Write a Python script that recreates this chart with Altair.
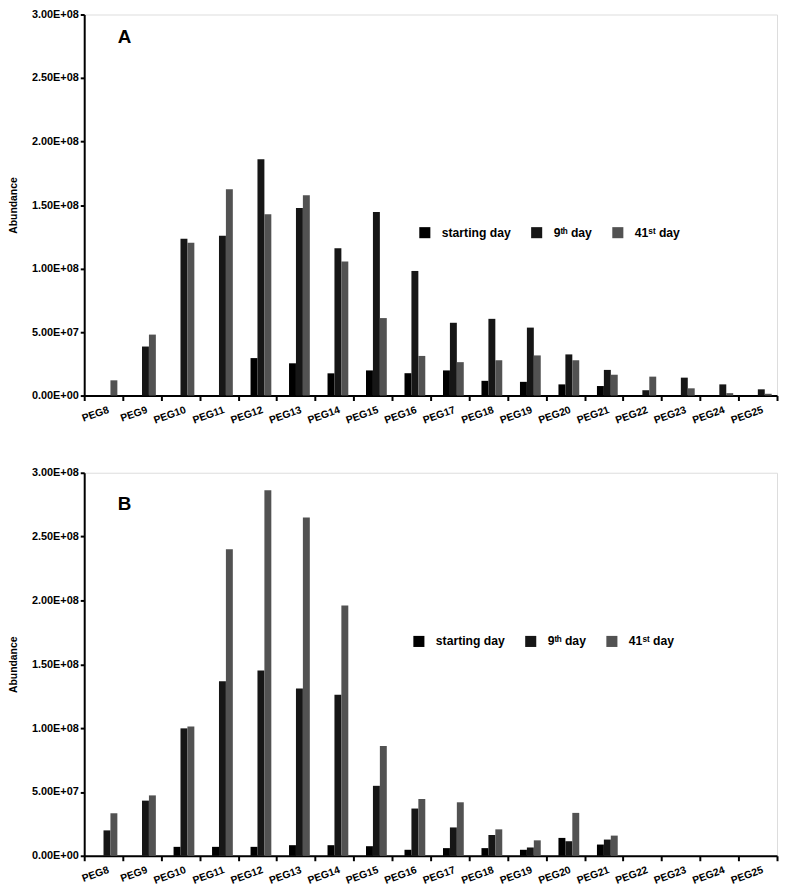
import altair as alt
import pandas as pd

categories = ["PEG8", "PEG9", "PEG10", "PEG11", "PEG12", "PEG13", "PEG14", "PEG15", "PEG16",
              "PEG17", "PEG18", "PEG19", "PEG20", "PEG21", "PEG22", "PEG23", "PEG24", "PEG25"]
series = ["starting day", "9ᵗʰ day", "41ˢᵗ day"]
colors = ["#000000", "#161616", "#525252"]
panel_labels = ["A", "B"]
y_ticks = [0, 5e7, 1e8, 1.5e8, 2e8, 2.5e8, 3e8]

# values in millions (x 1e6)
a_start = [0, 0, 0, 0, 29.5, 25.4, 17.5, 19.8, 17.6, 19.8, 11.6, 10.8, 8.8, 7.5, 0, 0, 0, 0]
a_9th = [0, 38.6, 123.5, 125.8, 186.0, 147.6, 115.9, 144.6, 98.1, 57.3, 60.4, 53.5, 32.4, 20.2, 4.2, 14.1, 8.8, 4.9]
a_41st = [12.0, 48.0, 120.4, 162.4, 142.8, 157.8, 105.5, 61.0, 31.2, 26.3, 27.8, 31.6, 27.8, 16.4, 14.9, 5.7, 1.9, 1.4]

b_start = [0, 0, 7.0, 7.0, 7.0, 8.3, 8.3, 7.5, 4.7, 6.0, 6.0, 4.7, 14.0, 8.8, 0, 0, 0, 0]
b_9th = [19.9, 43.2, 99.8, 136.7, 145.2, 131.0, 126.1, 54.8, 37.0, 22.2, 16.3, 6.5, 11.4, 12.7, 0, 0, 0, 0]
b_41st = [33.3, 47.3, 101.3, 240.0, 286.3, 264.9, 196.1, 86.0, 44.5, 41.9, 20.7, 12.1, 33.6, 15.8, 0, 0, 0, 0]

FONT = "Liberation Sans"


def make_df(start, ninth, forty):
    rows = []
    for s, vals in zip(series, [start, ninth, forty]):
        for c, v in zip(categories, vals):
            rows.append({"cat": c, "series": s, "value": v * 1e6})
    return pd.DataFrame(rows)


label_expr = ("datum.value == 0 ? '0.00E+00' : "
              "format(datum.value / pow(10, floor(log(datum.value) / LN10 + 1e-9)), '.2f') + 'E+' + "
              "(floor(log(datum.value) / LN10 + 1e-9) < 10 ? '0' : '') + "
              "floor(log(datum.value) / LN10 + 1e-9)")


def panel(df, letter, height, legend_x, legend_y, letter_y):
    bars = alt.Chart(df).mark_bar().encode(
        x=alt.X("cat:N", sort=categories,
                scale=alt.Scale(paddingInner=0, paddingOuter=0),
                axis=alt.Axis(title=None, labelAngle=-20, labelAlign="right", labelBaseline="top",
                              labelFont=FONT, labelFontWeight="bold", labelFontSize=10.5,
                              labelColor="black", labelPadding=4, tickBand="extent",
                              tickSize=5, tickWidth=2, tickColor="black",
                              domainWidth=2, domainColor="black", labelOffset=3)),
        xOffset=alt.XOffset("series:N", sort=series,
                            scale=alt.Scale(paddingInner=0, paddingOuter=0, range=[12.5, 33.5])),
        y=alt.Y("value:Q", scale=alt.Scale(domain=[0, 3e8], nice=False),
                axis=alt.Axis(title="Abundance", values=y_ticks, labelExpr=label_expr,
                              grid=False, labelFont=FONT, labelFontWeight="bold",
                              labelFontSize=11, labelColor="black", labelPadding=2,
                              tickSize=4, tickWidth=2, tickColor="black",
                              domainWidth=2, domainColor="black",
                              titleFont=FONT, titleFontWeight="bold", titleFontSize=10.5,
                              titleColor="black", titlePadding=13)),
        color=alt.Color("series:N", sort=series,
                        scale=alt.Scale(domain=series, range=colors),
                        legend=alt.Legend(title=None, orient="none", direction="horizontal",
                                          legendX=legend_x, legendY=legend_y,
                                          symbolType="square", symbolSize=125,
                                          symbolStrokeWidth=0, symbolOpacity=1,
                                          labelFont=FONT, labelFontWeight="bold",
                                          labelFontSize=12.3, labelColor="black",
                                          labelOffset=11, columnPadding=20, padding=0)),
    )
    txt = alt.Chart(pd.DataFrame({"t": [letter]})).mark_text(
        font=FONT, fontWeight="bold", fontSize=19, align="left", baseline="alphabetic",
        color="black"
    ).encode(x=alt.value(34), y=alt.value(letter_y), text="t:N")
    return alt.layer(bars, txt).properties(width=700, height=height)


pa = panel(make_df(a_start, a_9th, a_41st), panel_labels[0], 385, 338, 214, 29)
pb = panel(make_df(b_start, b_9th, b_41st), panel_labels[1], 387, 332, 164, 38)

chart = alt.vconcat(pa, pb, spacing=40).resolve_scale(color="independent").properties(
    padding={"left": 0, "top": -5, "right": 0, "bottom": 0}
).configure_view(strokeWidth=0).configure(font=FONT)

chart.save("out.html", embed_options={"renderer": "svg", "actions": False})
